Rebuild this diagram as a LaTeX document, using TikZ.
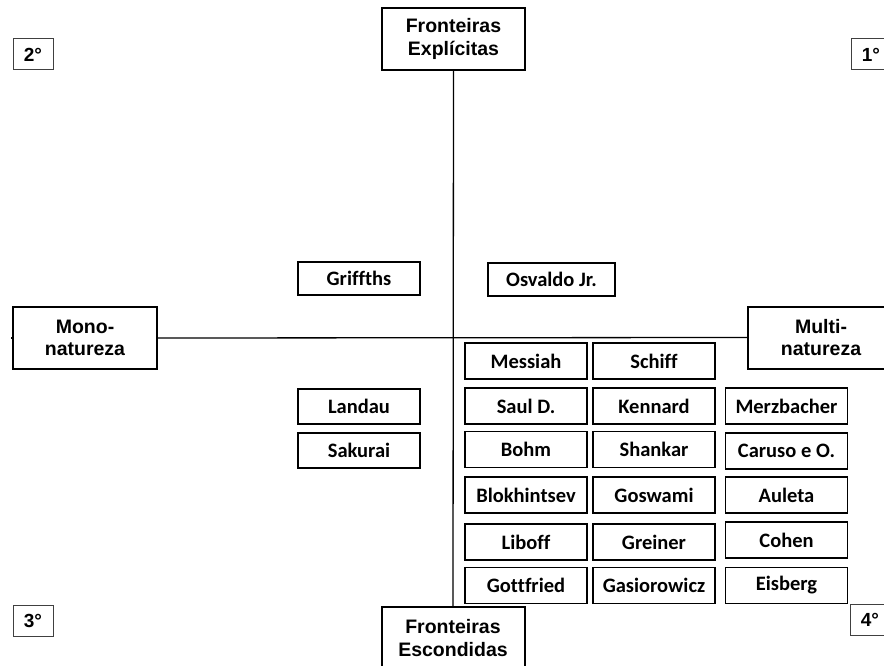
\documentclass[tikz,border=0pt]{standalone}
\usepackage{fontspec}
\setmainfont{Liberation Sans}
\newfontfamily\calfont[Ligatures=NoCommon]{Carlito}
\begin{document}
\begin{tikzpicture}[x=1pt,y=-1pt,
  axisbox/.style={draw=black,line width=2pt,rectangle,inner sep=0pt,align=center,
    minimum width=143pt,minimum height=62pt,font=\fontsize{19.5}{22.5}\selectfont\bfseries},
  quadbox/.style={draw=black!75,line width=1pt,rectangle,inner sep=0pt,
    minimum width=40pt,minimum height=31pt,font=\fontsize{19}{21}\selectfont\bfseries},
  namebox/.style={draw=black,line width=1.5pt,rectangle,inner sep=0pt,
    minimum width=122pt,minimum height=36pt,font=\calfont\fontsize{20.5}{23}\selectfont\bfseries},
  axisline/.style={draw=black,line width=1.3pt}]
\useasboundingbox (0,0) rectangle (884,666);
\clip (0,0) rectangle (884,666);
\fill[white] (0,0) rectangle (884,666);

% axis boxes
\node[axisbox] (ftop) at (453.5,39) {Fronteiras\\Explícitas};
\node[axisbox] (fbot) at (453,638) {Fronteiras\\Escondidas};
\node[axisbox,minimum width=144pt] (mono) at (85,338) {Mono-\\natureza};
\node[axisbox,minimum width=146pt] (multi) at (821,337.5) {Multi-\\natureza};

% axes
\draw[axisline] (ftop.south) -- (fbot.north);
\draw[axisline] (mono.east) -- (multi.west);
\draw[axisline] (mono.west) -- ++(-1.5,0);

% quadrant labels
\node[quadbox] (q2) at (33,54.5) {2°};
\node[quadbox] (q1) at (871,54.5) {1°};
\node[quadbox] (q3) at (33,620.5) {3°};
\node[quadbox] (q4) at (870,620) {4°};

% names
\node[namebox,minimum height=33pt] (griffths) at (359,278.5) {Griffths};
\node[namebox,minimum height=33pt,minimum width=127pt] (osvaldo) at (551.5,279.5) {Osvaldo Jr.};
\node[namebox,minimum height=35pt] (landau) at (359,406.5) {Landau};
\node[namebox,minimum height=35pt] (sakurai) at (359,450.5) {Sakurai};

\node[namebox] (messiah) at (526,361) {Messiah};
\node[namebox] (schiff) at (654,361) {Schiff};
\node[namebox] (saul) at (526,406) {Saul D.};
\node[namebox] (kennard) at (654,406) {Kennard};
\node[namebox] (merzbacher) at (786.5,406) {Merzbacher};
\node[namebox] (bohm) at (526,449.5) {Bohm};
\node[namebox] (shankar) at (654,449.5) {Shankar};
\node[namebox] (caruso) at (786.5,451) {Caruso e O.};
\node[namebox] (blokhintsev) at (526,495) {Blokhintsev};
\node[namebox] (goswami) at (654,495) {Goswami};
\node[namebox] (auleta) at (786.5,495) {Auleta};
\node[namebox] (liboff) at (526,542) {Liboff};
\node[namebox] (greiner) at (654,542) {Greiner};
\node[namebox] (cohen) at (786.5,540) {Cohen};
\node[namebox] (gottfried) at (526,585.5) {Gottfried};
\node[namebox] (gasiorowicz) at (654,585.5) {Gasiorowicz};
\node[namebox] (eisberg) at (786.5,585.5) {Eisberg};
\end{tikzpicture}
\end{document}
